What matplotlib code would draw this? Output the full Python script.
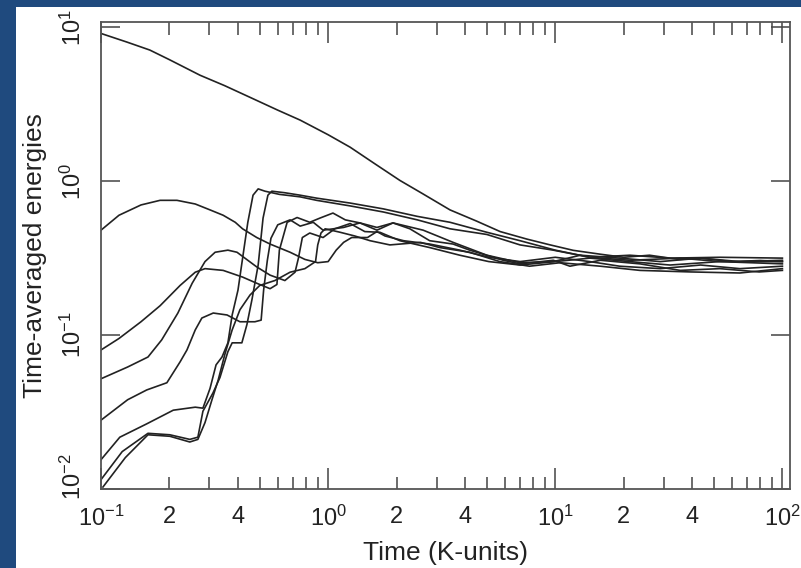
import matplotlib
matplotlib.use('Agg')
import matplotlib.pyplot as plt
from matplotlib.patches import Rectangle
from matplotlib.transforms import ScaledTranslation
from matplotlib.ticker import FixedLocator, FixedFormatter, NullLocator

plt.rcParams['font.family'] = ['Liberation Sans', 'DejaVu Sans']
plt.rcParams['mathtext.fontset'] = 'custom'
plt.rcParams['mathtext.rm'] = 'Liberation Sans'
plt.rcParams['mathtext.it'] = 'Liberation Sans:italic'
plt.rcParams['mathtext.bf'] = 'Liberation Sans:bold'

# curve A: highest initial energy, decays into the band
t_a = [0.1, 0.13, 0.164, 0.2, 0.273, 0.35, 0.453, 0.6, 0.753, 1.0, 1.25, 1.6, 2.07, 2.6,
       3.44, 4.5, 5.72, 7.5, 9.5, 12, 15.8, 20, 26, 35, 44, 60, 80, 100]
e_a = [9.1, 8.0, 7.1, 6.15, 4.87, 4.17, 3.5, 2.89, 2.49, 2.0, 1.66, 1.3, 1.01, 0.83,
       0.65, 0.55, 0.47, 0.42, 0.385, 0.355, 0.335, 0.32, 0.33, 0.31, 0.315, 0.30, 0.305, 0.30]

# curve B: starts ~0.5, hump near 0.2
t_b = [0.1, 0.12, 0.15, 0.182, 0.216, 0.26, 0.302, 0.345, 0.39, 0.42, 0.485, 0.555, 0.68,
       0.79, 0.9, 1.0, 1.085, 1.17, 1.27, 1.49, 1.64, 1.78, 2.15, 2.8, 3.8, 5.1, 7.0, 10,
       14.2, 19.2, 29, 43.6, 65, 100]
e_b = [0.48, 0.6, 0.70, 0.75, 0.75, 0.71, 0.65, 0.6, 0.54, 0.49, 0.43, 0.39, 0.345,
       0.31, 0.295, 0.3, 0.356, 0.40, 0.43, 0.43, 0.47, 0.44, 0.41, 0.39, 0.356, 0.32, 0.30, 0.32,
       0.30, 0.28, 0.27, 0.285, 0.27, 0.28]

# curve C: starts ~0.08
t_c = [0.1, 0.12, 0.15, 0.182, 0.223, 0.26, 0.287, 0.345, 0.42, 0.485, 0.555, 0.595, 0.61,
       0.66, 0.73, 0.83, 0.92, 1.05, 1.19, 1.38, 1.64, 1.93, 2.62, 3.55, 5.0, 7.0, 9.8, 12.9,
       19.2, 29, 43.6, 65, 100]
e_c = [0.08, 0.095, 0.122, 0.155, 0.21, 0.256, 0.27, 0.263, 0.238, 0.217, 0.2, 0.213, 0.356,
       0.54, 0.58, 0.54, 0.575, 0.62, 0.56, 0.535, 0.5, 0.535, 0.48, 0.40, 0.33, 0.295, 0.30, 0.33,
       0.316, 0.30, 0.316, 0.30, 0.306]

# curve D: starts ~0.05
t_d = [0.1, 0.131, 0.161, 0.185, 0.218, 0.252, 0.287, 0.318, 0.362, 0.397, 0.43, 0.485, 0.555,
       0.645, 0.715, 0.74, 0.77, 0.83, 0.95, 1.07, 1.25, 1.45, 1.69, 2.07, 2.8, 3.8, 5.1, 7.0,
       10, 14.2, 21.3, 32, 53, 100]
e_d = [0.052, 0.062, 0.072, 0.093, 0.139, 0.217, 0.30, 0.345, 0.356, 0.345, 0.316, 0.277, 0.245,
       0.226, 0.256, 0.316, 0.43, 0.46, 0.43, 0.49, 0.53, 0.47, 0.465, 0.41, 0.37, 0.33, 0.30, 0.285,
       0.30, 0.316, 0.30, 0.285, 0.30, 0.29]

# curve E: starts ~0.03
t_e = [0.1, 0.131, 0.159, 0.195, 0.223, 0.239, 0.26, 0.278, 0.312, 0.359, 0.409, 0.476, 0.507,
       0.52, 0.54, 0.56, 0.6, 0.68, 0.753, 0.86, 0.95, 1.17, 1.38, 1.64, 1.93, 2.29, 2.8, 3.55,
       4.2, 5.9, 7.0, 9.8, 11.6, 15.8, 23.6, 35.5, 53, 79, 100]
e_e = [0.028, 0.038, 0.044, 0.049, 0.067, 0.08, 0.108, 0.129, 0.139, 0.135, 0.122, 0.122, 0.125,
       0.196, 0.306, 0.425, 0.52, 0.56, 0.51, 0.54, 0.48, 0.50, 0.535, 0.48, 0.535, 0.49, 0.41, 0.39,
       0.356, 0.306, 0.29, 0.306, 0.28, 0.306, 0.29, 0.263, 0.27, 0.257, 0.263]

# curve F: starts ~0.016, early large jump
t_f = [0.1, 0.121, 0.159, 0.208, 0.26, 0.281, 0.302, 0.321, 0.341, 0.362, 0.378, 0.401, 0.422,
       0.443, 0.467, 0.492, 0.527, 0.61, 0.753, 0.89, 1.25, 1.75, 2.47, 3.44, 5.0, 7.0, 9.8,
       14.2, 21.3, 32, 53, 100]
e_f = [0.0155, 0.0217, 0.0265, 0.0325, 0.034, 0.0335, 0.045, 0.064, 0.072, 0.089, 0.135, 0.196, 0.33,
       0.54, 0.81, 0.89, 0.86, 0.82, 0.79, 0.75, 0.69, 0.63, 0.56, 0.49, 0.45, 0.385, 0.356,
       0.32, 0.33, 0.316, 0.32, 0.316]

# curve G: starts ~0.012, large jump just after F
t_g = [0.1, 0.124, 0.161, 0.201, 0.246, 0.267, 0.281, 0.311, 0.334, 0.362, 0.378, 0.417, 0.439,
       0.462, 0.492, 0.517, 0.543, 0.565, 0.645, 0.753, 0.89, 1.25, 1.75, 2.47, 3.44, 5.0, 7.0,
       10, 14.2, 21.3, 35.5, 53, 100]
e_g = [0.0115, 0.0175, 0.023, 0.0225, 0.021, 0.0217, 0.032, 0.042, 0.053, 0.078, 0.089, 0.089, 0.117,
       0.17, 0.285, 0.575, 0.81, 0.86, 0.84, 0.81, 0.775, 0.72, 0.66, 0.59, 0.54, 0.465, 0.41,
       0.356, 0.32, 0.306, 0.316, 0.30, 0.30]

# curve H: lowest start, late jump
t_h = [0.102, 0.128, 0.161, 0.201, 0.246, 0.267, 0.287, 0.308, 0.328, 0.351, 0.378, 0.409, 0.453,
       0.5, 0.583, 0.68, 0.79, 0.88, 0.9, 0.93, 0.97, 1.13, 1.31, 1.53, 1.87, 2.55, 3.1, 4.2,
       5.7, 7.7, 10.5, 15.8, 23.6, 39.5, 65, 100]
e_h = [0.0103, 0.016, 0.0225, 0.022, 0.0202, 0.021, 0.027, 0.038, 0.051, 0.075, 0.108, 0.146, 0.182,
       0.21, 0.226, 0.256, 0.27, 0.30, 0.385, 0.46, 0.49, 0.465, 0.44, 0.41, 0.385, 0.40, 0.37, 0.345,
       0.30, 0.28, 0.295, 0.28, 0.263, 0.257, 0.253, 0.27]

curves = [(t_a, e_a), (t_b, e_b), (t_c, e_c), (t_d, e_d),
          (t_e, e_e), (t_f, e_f), (t_g, e_g), (t_h, e_h)]

x_major = [0.1, 1, 10, 100]
x_major_labels = [r'$10^{-1}$', r'$10^{0}$', r'$10^{1}$', r'$10^{2}$']
x_minor = [m * d for d in (0.1, 1, 10) for m in range(2, 10)]
x_minor_labels = [str(m) if m in (2, 4) else '' for d in (0.1, 1, 10) for m in range(2, 10)]
y_major = [0.01, 0.1, 1, 10]
y_major_labels = [r'$10^{-2}$', r'$10^{-1}$', r'$10^{0}$', r'$10^{1}$']

W, H = 801, 568
fig = plt.figure(figsize=(W / 100, H / 100), dpi=100, facecolor='#1f4a7e')
fig.add_artist(Rectangle((16 / W, 0), 1, (H - 7) / H, transform=fig.transFigure,
                         facecolor='white', edgecolor='none', zorder=-5))
ax = fig.add_axes([101 / W, 79 / H, 689 / W, 467 / H])

for t, e in curves:
    ax.plot(t, e, color='#222222', lw=1.2)

ax.set_xscale('log')
ax.set_yscale('log')
ax.set_xlim(0.1, 108)
ax.set_ylim(0.01, 10.8)

ax.xaxis.set_major_locator(FixedLocator(x_major))
ax.xaxis.set_major_formatter(FixedFormatter(x_major_labels))
ax.xaxis.set_minor_locator(FixedLocator(x_minor))
ax.xaxis.set_minor_formatter(FixedFormatter(x_minor_labels))
ax.yaxis.set_major_locator(FixedLocator(y_major))
ax.yaxis.set_major_formatter(FixedFormatter(y_major_labels))
ax.yaxis.set_minor_locator(NullLocator())

tc = '#222222'
ax.tick_params(axis='x', which='both', direction='in', top=True, labelsize=17,
               pad=12, colors='#444444', labelcolor=tc, width=1.1)
ax.tick_params(axis='x', which='major', length=15)
ax.tick_params(axis='x', which='minor', length=9)
ax.tick_params(axis='y', which='major', direction='in', right=True, length=14,
               labelsize=17, pad=11, labelrotation=90, colors='#444444',
               labelcolor=tc, width=1.1)
ylabels = ax.get_yticklabels()
for lbl in ylabels:
    lbl.set_va('center')
# bottom label sits a little above its tick, clear of the x labels
ylabels[0].set_transform(ylabels[0].get_transform()
                         + ScaledTranslation(0, 12 / 100, fig.dpi_scale_trans))

for s in ax.spines.values():
    s.set_color('#555555')
    s.set_linewidth(1.3)

ax.set_xlabel('Time (K-units)', fontsize=19, color=tc, labelpad=7)
ax.set_ylabel('Time-averaged energies', fontsize=19, color=tc, labelpad=10)

fig.savefig('out.png', dpi=100, facecolor=fig.get_facecolor())
